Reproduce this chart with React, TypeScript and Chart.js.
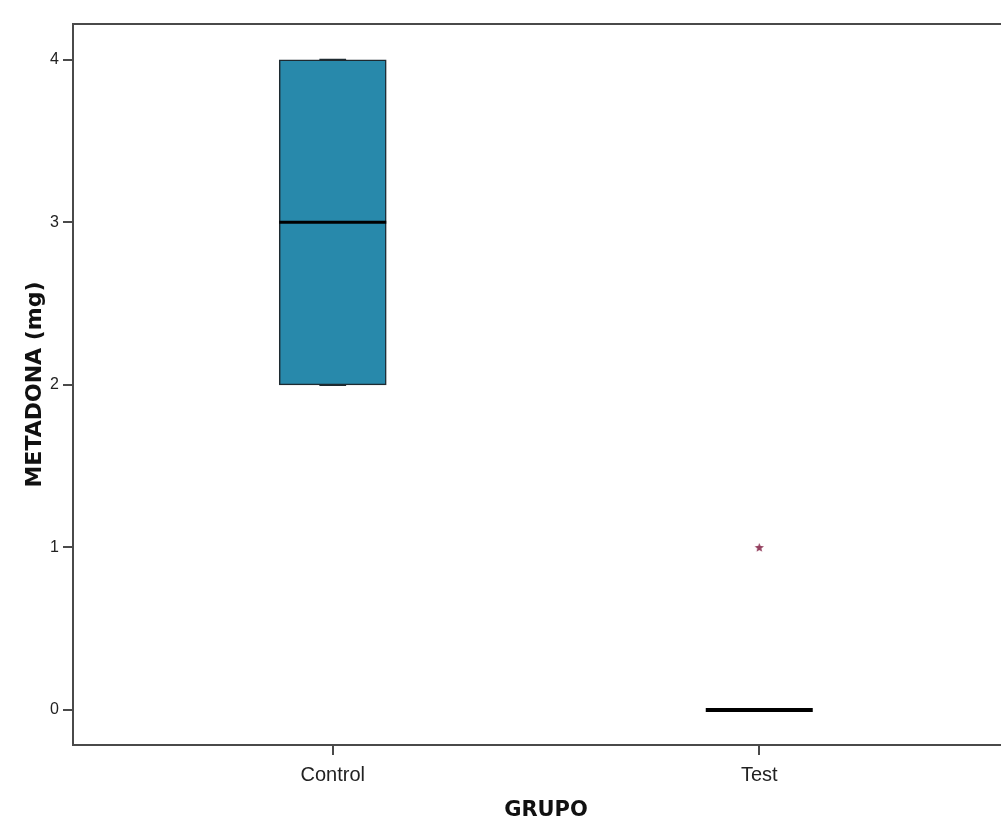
import React, { useEffect, useRef } from "react";
import { Chart, registerables } from "chart.js";

Chart.register(...registerables);

// ---- Data ----
const groups: string[] = ["Control", "Test"];
const groupPositions: number[] = [1, 2];
const whiskerLow: number[] = [2, 0];
const q1: number[] = [2, 0];
const median: number[] = [3, 0];
const q3: number[] = [4, 0];
const whiskerHigh: number[] = [4, 0];
const outlierGroupIndex: number[] = [1];
const outlierValues: number[] = [1];
const yTickValues: number[] = [0, 1, 2, 3, 4];

const xTitle = "GRUPO";
const yTitle = "METADONA (mg)";

// ---- Styles ----
const BOX_COLOR = "#2889ab";
const BOX_BORDER = "#1e2a30";
const AXIS_COLOR = "#4a4a4a";
const STAR_COLOR = "#94405f";
const TICK_FONT = "'Liberation Sans', Arial, sans-serif";
const TITLE_FONT = "'DejaVu Sans', sans-serif";

const CANVAS_W = 1040;
const CANVAS_H = 840;

function makeStar(): HTMLCanvasElement {
  const c = document.createElement("canvas");
  c.width = 11;
  c.height = 11;
  const ctx = c.getContext("2d")!;
  const cx = 5.5, cy = 5.8, ro = 4.8, ri = 2.1;
  ctx.beginPath();
  for (let i = 0; i < 10; i++) {
    const r = i % 2 === 0 ? ro : ri;
    const a = -Math.PI / 2 + (i * Math.PI) / 5;
    const px = cx + r * Math.cos(a);
    const py = cy + r * Math.sin(a);
    if (i === 0) ctx.moveTo(px, py);
    else ctx.lineTo(px, py);
  }
  ctx.closePath();
  ctx.fillStyle = STAR_COLOR;
  ctx.fill();
  return c;
}

const boxExtrasPlugin = {
  id: "boxExtras",
  afterDatasetsDraw(chart: any) {
    const { ctx, scales } = chart;
    const xs = scales.x;
    const ys = scales.y;
    const meta = chart.getDatasetMeta(0);
    ctx.save();
    groups.forEach((_, i) => {
      const cx = xs.getPixelForValue(groupPositions[i]);
      const bar = meta.data[i];
      const w = bar && bar.width ? bar.width : 100;
      // whiskers
      ctx.strokeStyle = BOX_BORDER;
      ctx.lineWidth = 2;
      ctx.beginPath();
      ctx.moveTo(cx, ys.getPixelForValue(q3[i]));
      ctx.lineTo(cx, ys.getPixelForValue(whiskerHigh[i]));
      ctx.moveTo(cx, ys.getPixelForValue(q1[i]));
      ctx.lineTo(cx, ys.getPixelForValue(whiskerLow[i]));
      ctx.stroke();
      ctx.beginPath();
      const capHalf = w / 8;
      ctx.moveTo(cx - capHalf, ys.getPixelForValue(whiskerHigh[i]));
      ctx.lineTo(cx + capHalf, ys.getPixelForValue(whiskerHigh[i]));
      ctx.moveTo(cx - capHalf, ys.getPixelForValue(whiskerLow[i]));
      ctx.lineTo(cx + capHalf, ys.getPixelForValue(whiskerLow[i]));
      ctx.stroke();
      // median
      ctx.strokeStyle = "#000000";
      ctx.lineWidth = i === 0 ? 3 : 4;
      ctx.beginPath();
      ctx.moveTo(cx - w / 2, ys.getPixelForValue(median[i]));
      ctx.lineTo(cx + w / 2, ys.getPixelForValue(median[i]));
      ctx.stroke();
    });
    ctx.restore();
  },
};

const topBorderPlugin = {
  id: "topBorder",
  afterDraw(chart: any) {
    const { ctx, chartArea } = chart;
    ctx.save();
    ctx.strokeStyle = AXIS_COLOR;
    ctx.lineWidth = 2;
    ctx.beginPath();
    ctx.moveTo(chartArea.left - 1, chartArea.top);
    ctx.lineTo(chartArea.right + 20, chartArea.top);
    ctx.stroke();
    ctx.restore();
  },
};

export default function App() {
  const ref = useRef<HTMLCanvasElement | null>(null);

  useEffect(() => {
    if (!ref.current) return;
    const star = makeStar();
    const chart = new Chart(ref.current, {
      type: "bar",
      data: {
        datasets: [
          {
            type: "bar",
            label: "box",
            data: groups.map((_, i) => ({ x: groupPositions[i], y: [q1[i], q3[i]] })) as any,
            backgroundColor: BOX_COLOR,
            borderColor: BOX_BORDER,
            borderWidth: 1.5,
            borderSkipped: false,
            barThickness: 107,
          } as any,
          {
            type: "scatter",
            label: "outliers",
            data: outlierValues.map((v, i) => ({ x: groupPositions[outlierGroupIndex[i]], y: v })),
            pointStyle: star as any,
            pointRadius: 5,
            showLine: false,
          } as any,
        ],
      },
      options: {
        animation: false,
        responsive: false,
        devicePixelRatio: 1,
        layout: { padding: { left: 0, top: 24, right: CANVAS_W - 1019, bottom: 0 } },
        plugins: {
          legend: { display: false },
          tooltip: { enabled: false },
        },
        scales: {
          x: {
            type: "linear",
            min: 0.391,
            max: 2.609,
            offset: false,
            afterBuildTicks: (scale: any) => {
              scale.ticks = groupPositions.map((v) => ({ value: v }));
            },
            afterFit: (scale: any) => {
              scale.height = CANVAS_H - 745;
            },
            ticks: {
              callback: (v: any) => {
                const idx = groupPositions.indexOf(Number(v));
                return idx >= 0 ? groups[idx] : "";
              },
              color: "#222",
              font: { family: TICK_FONT, size: 20 },
              padding: 8,
              maxRotation: 0,
              autoSkip: false,
            },
            grid: {
              display: true,
              drawOnChartArea: false,
              drawTicks: true,
              tickLength: 10,
              color: AXIS_COLOR,
              lineWidth: 2,
              offset: false,
            },
            border: { display: true, color: AXIS_COLOR, width: 2 },
            title: {
              display: true,
              text: xTitle,
              color: "#111",
              font: { family: TITLE_FONT, size: 21, weight: "bold" },
              padding: { top: 0, bottom: 17 },
            },
          },
          y: {
            type: "linear",
            min: -0.215,
            max: 4.22,
            afterBuildTicks: (scale: any) => {
              scale.ticks = yTickValues.map((v) => ({ value: v }));
            },
            afterFit: (scale: any) => {
              scale.width = 73;
            },
            ticks: {
              color: "#222",
              font: { family: TICK_FONT, size: 16 },
              padding: 4,
            },
            grid: {
              display: true,
              drawOnChartArea: false,
              drawTicks: true,
              tickLength: 10,
              color: AXIS_COLOR,
              lineWidth: 2,
            },
            border: { display: true, color: AXIS_COLOR, width: 2 },
            title: {
              display: true,
              text: yTitle,
              color: "#111",
              font: { family: TITLE_FONT, size: 22, weight: "bold" },
              padding: { top: 22, bottom: 0 },
            },
          },
        },
      },
      plugins: [boxExtrasPlugin, topBorderPlugin],
    } as any);
    return () => chart.destroy();
  }, []);

  return (
    <div
      style={{
        position: "fixed",
        left: 0,
        top: 0,
        width: 1001,
        height: 820,
        overflow: "hidden",
        background: "#ffffff",
      }}
    >
      <canvas ref={ref} width={CANVAS_W} height={CANVAS_H} style={{ display: "block" }} />
    </div>
  );
}
